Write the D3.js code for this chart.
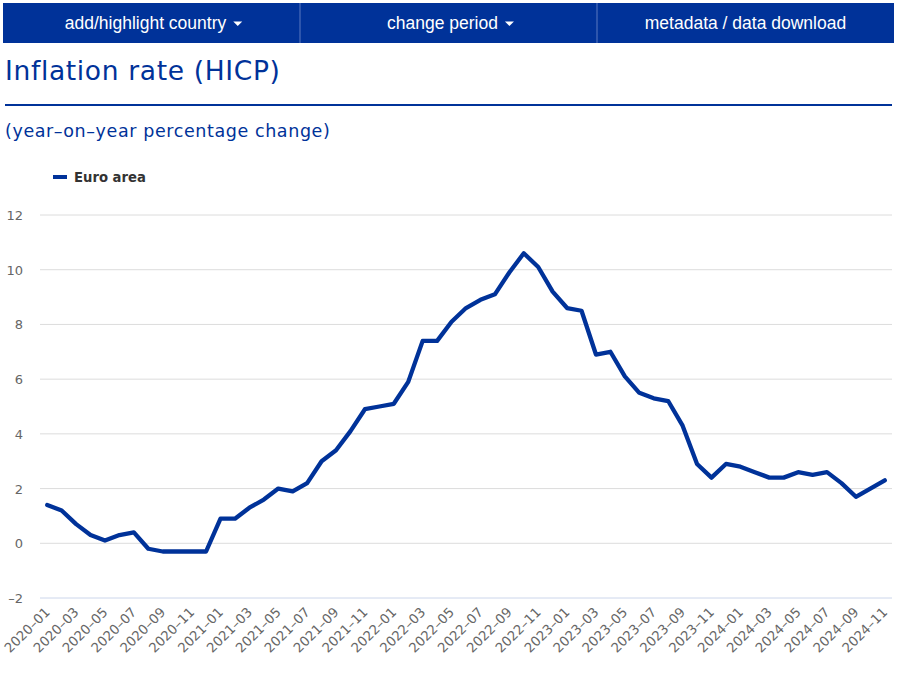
<!DOCTYPE html>
<html>
<head>
<meta charset="utf-8">
<script src="https://cdn.jsdelivr.net/npm/d3@7"></script>
<style>
  body { margin: 0; background: #fff; }
  svg { display: block; }
</style>
</head>
<body>
<svg id="chart" width="903" height="675"></svg>
<script>
// ---- data ----
const months = [
  '2020-01','2020-02','2020-03','2020-04','2020-05','2020-06','2020-07','2020-08','2020-09','2020-10','2020-11','2020-12',
  '2021-01','2021-02','2021-03','2021-04','2021-05','2021-06','2021-07','2021-08','2021-09','2021-10','2021-11','2021-12',
  '2022-01','2022-02','2022-03','2022-04','2022-05','2022-06','2022-07','2022-08','2022-09','2022-10','2022-11','2022-12',
  '2023-01','2023-02','2023-03','2023-04','2023-05','2023-06','2023-07','2023-08','2023-09','2023-10','2023-11','2023-12',
  '2024-01','2024-02','2024-03','2024-04','2024-05','2024-06','2024-07','2024-08','2024-09','2024-10','2024-11'
];
const euroArea = [
  1.4, 1.2, 0.7, 0.3, 0.1, 0.3, 0.4, -0.2, -0.3, -0.3, -0.3, -0.3,
  0.9, 0.9, 1.3, 1.6, 2.0, 1.9, 2.2, 3.0, 3.4, 4.1, 4.9, 5.0,
  5.1, 5.9, 7.4, 7.4, 8.1, 8.6, 8.9, 9.1, 9.9, 10.6, 10.1, 9.2,
  8.6, 8.5, 6.9, 7.0, 6.1, 5.5, 5.3, 5.2, 4.3, 2.9, 2.4, 2.9,
  2.8, 2.6, 2.4, 2.4, 2.6, 2.5, 2.6, 2.2, 1.7, 2.0, 2.3
];
const yTicks = [-2, 0, 2, 4, 6, 8, 10, 12];
const menuItems = ['add/highlight country', 'change period', 'metadata / data download'];
const menuCaret = [true, true, false];

const BLUE = '#003299';
const FONT = "'DejaVu Sans', Verdana, sans-serif";
const svg = d3.select('#chart');

/* ---------- menu bar ---------- */
const menuX = d3.scaleBand().domain(d3.range(menuItems.length)).range([3, 894]);
const menu = svg.append('g');
menu.append('rect').attr('x', 3).attr('y', 3).attr('width', 891).attr('height', 40).attr('fill', BLUE);
menuItems.forEach((t, i) => {
  if (i > 0) {
    menu.append('line')
      .attr('x1', menuX(i)).attr('x2', menuX(i)).attr('y1', 3).attr('y2', 43)
      .attr('stroke', '#5a78c0').attr('stroke-width', 1);
  }
  const cx = menuX(i) + menuX.bandwidth() / 2;
  const txt = menu.append('text')
    .attr('x', cx - (menuCaret[i] ? 6 : 0)).attr('y', 29)
    .attr('text-anchor', 'middle')
    .attr('fill', '#fff')
    .attr('font-family', "'Liberation Sans', Arial, sans-serif")
    .attr('font-size', '17.5px')
    .text(t);
  if (menuCaret[i]) {
    const w = txt.node().getComputedTextLength();
    const tx = cx - 6 + w / 2 + 7;
    menu.append('path')
      .attr('d', `M${tx},21.5 L${tx + 9},21.5 L${tx + 4.5},26 Z`)
      .attr('fill', '#fff');
  }
});

/* ---------- titles ---------- */
svg.append('text')
  .attr('x', 5).attr('y', 80)
  .attr('fill', BLUE)
  .attr('font-family', FONT)
  .attr('font-size', '26.5px')
  .attr('letter-spacing', '0.65px')
  .text('Inflation rate (HICP)');
svg.append('line')
  .attr('x1', 5).attr('x2', 892).attr('y1', 105).attr('y2', 105)
  .attr('stroke', BLUE).attr('stroke-width', 2);
svg.append('text')
  .attr('x', 5).attr('y', 137)
  .attr('fill', BLUE)
  .attr('font-family', FONT)
  .attr('font-size', '17.5px')
  .attr('letter-spacing', '0.6px')
  .text('(year\u2013on\u2013year percentage change)');

/* ---------- legend ---------- */
const legend = svg.append('g').attr('transform', 'translate(53,177)');
legend.append('line').attr('x1', 0).attr('x2', 14).attr('y1', 0).attr('y2', 0)
  .attr('stroke', BLUE).attr('stroke-width', 4);
legend.append('text').attr('x', 21).attr('y', 5)
  .attr('fill', '#333')
  .attr('font-family', FONT)
  .attr('font-size', '13.2px')
  .attr('font-weight', 'bold')
  .text('Euro area');

/* ---------- chart ---------- */
const plot = { left: 40, right: 892, top: 215, bottom: 598 };
const x = d3.scalePoint().domain(months).range([plot.left, plot.right]).padding(0.5);
const y = d3.scaleLinear().domain([-2, 12]).range([plot.bottom, plot.top]);

// gridlines
svg.append('g')
  .selectAll('line')
  .data(yTicks)
  .join('line')
  .attr('x1', plot.left).attr('x2', plot.right)
  .attr('y1', d => y(d)).attr('y2', d => y(d))
  .attr('stroke', d => d === -2 ? '#ccd6eb' : '#dcdcdc')
  .attr('stroke-width', 1);

// y axis labels
const yAxis = svg.append('g')
  .attr('transform', `translate(${plot.left - 17},0)`)
  .call(d3.axisLeft(y).tickValues(yTicks).tickSize(0).tickPadding(0));
yAxis.select('.domain').remove();
yAxis.selectAll('text')
  .attr('fill', '#666')
  .attr('font-family', FONT)
  .attr('font-size', '13px')
  .attr('dy', '0.35em')
  .text(d => String(d).replace('-', '\u2013'));

// x axis labels (every other month)
const xAxis = svg.append('g')
  .attr('transform', `translate(0,${plot.bottom})`)
  .call(d3.axisBottom(x).tickValues(months.filter((m, i) => i % 2 === 0)).tickSize(0).tickPadding(0));
xAxis.select('.domain').remove();
xAxis.selectAll('text')
  .attr('fill', '#666')
  .attr('font-family', FONT)
  .attr('font-size', '13.3px')
  .attr('text-anchor', 'end')
  .attr('dy', 0)
  .attr('transform', 'translate(3,15) rotate(-45)')
  .text(d => d.replace('-', '\u2013'));

// line
const line = d3.line()
  .x((d, i) => x(months[i]))
  .y(d => y(d));
svg.append('path')
  .datum(euroArea)
  .attr('d', line)
  .attr('fill', 'none')
  .attr('stroke', BLUE)
  .attr('stroke-width', 4.3)
  .attr('stroke-linejoin', 'round')
  .attr('stroke-linecap', 'round');
</script>
</body>
</html>
